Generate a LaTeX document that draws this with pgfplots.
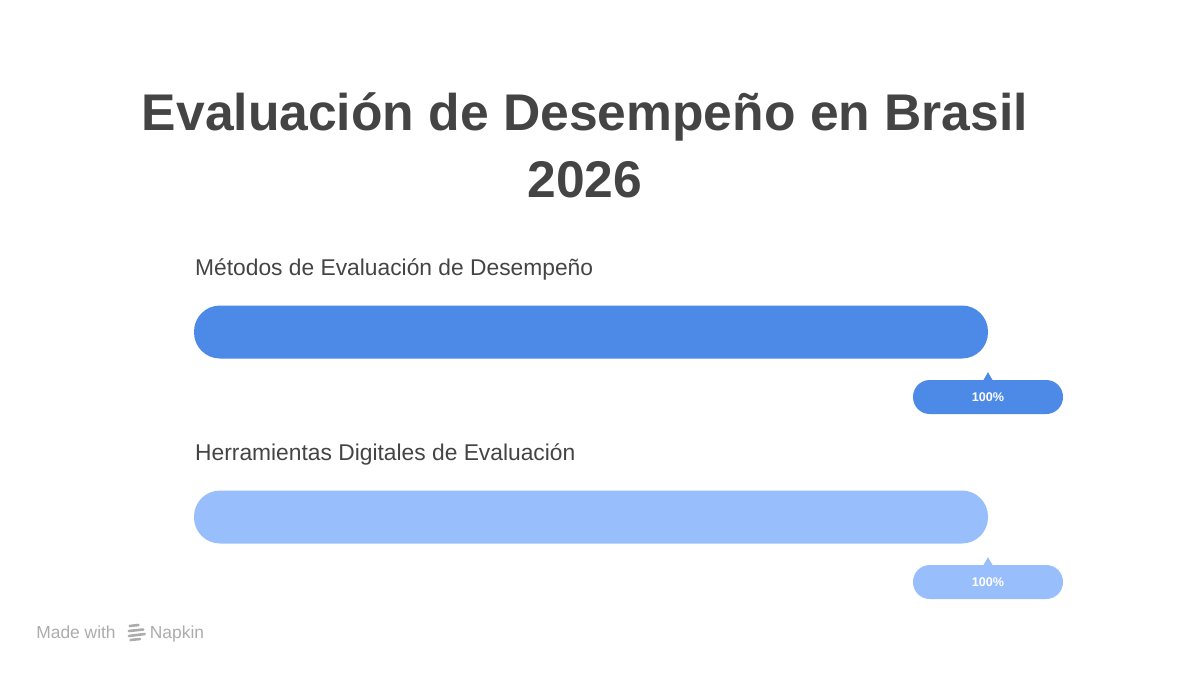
\documentclass[border=0pt]{standalone}
\usepackage{pgfplots}
\pgfplotsset{compat=1.18}
\usepackage{fontspec}
\setmainfont{Liberation Sans}
\definecolor{barA}{RGB}{77,137,230}
\definecolor{barB}{RGB}{153,190,252}
\definecolor{txt}{RGB}{68,68,68}
\definecolor{napk}{RGB}{172,172,172}
\tikzset{callout/.style={anchor=center, yshift=-32.5pt, text=white,
    font=\fontsize{6.3pt}{7pt}\selectfont\bfseries,
    minimum width=75pt, minimum height=17pt, rounded corners=8.4pt, inner sep=0pt}}
\begin{document}
\begin{tikzpicture}
\begin{axis}[
  scale only axis, width=600pt, height=337.5pt,
  xmin=-24.433, xmax=126.700, ymin=0, ymax=675, y dir=reverse,
  hide axis, clip=false,
  /pgf/number format/assume math mode=true,
]
\path (rel axis cs:0,0) rectangle (rel axis cs:1,1);
% title
\node[anchor=base, text=txt, font=\fontsize{25.8pt}{30pt}\selectfont\bfseries, inner sep=0pt] at (axis cs:49.24,130) {Evaluación de Desempeño en Brasil};
\node[anchor=base, text=txt, font=\fontsize{25.8pt}{30pt}\selectfont\bfseries, inner sep=0pt] at (axis cs:49.24,197) {2026};
% category labels
\node[anchor=base west, text=txt, font=\fontsize{11.4pt}{13pt}\selectfont, inner sep=0pt] at (axis cs:0.1,275) {Métodos de Evaluación de Desempeño};
\node[anchor=base west, text=txt, font=\fontsize{11.4pt}{13pt}\selectfont, inner sep=0pt] at (axis cs:0.1,460) {Herramientas Digitales de Evaluación};
% bars
\addplot[xbar, bar width=26.5pt, bar shift=0pt, fill=barA, draw=none, rounded corners=13pt,
  point meta=x, nodes near coords={\pgfmathprintnumber{\pgfplotspointmeta}\%},
  every node near coord/.append style={callout, fill=barA}] coordinates {(100,332)};
\addplot[xbar, bar width=26.5pt, bar shift=0pt, fill=barB, draw=none, rounded corners=13pt,
  point meta=x, nodes near coords={\pgfmathprintnumber{\pgfplotspointmeta}\%},
  every node near coord/.append style={callout, fill=barB}] coordinates {(100,517)};
% callout pointers
\addplot[only marks, mark=triangle*, mark size=2.5pt, color=barA] coordinates {(100,378)};
\addplot[only marks, mark=triangle*, mark size=2.5pt, color=barB] coordinates {(100,563)};
% footer
\node[anchor=base west, text=napk, font=\fontsize{8.7pt}{10pt}\selectfont, inner sep=0pt] at (axis cs:-19.9,638) {Made with};
\node[anchor=base west, text=napk, font=\fontsize{8.7pt}{10pt}\selectfont, inner sep=0pt] at (axis cs:-5.6,638) {Napkin};
\draw[napk, line width=1.3pt, line cap=round] (axis cs:-8.1,626) -- (axis cs:-7.0,625);
\draw[napk, line width=1.3pt, line cap=round] (axis cs:-8.2,631) -- (axis cs:-6.4,629.5);
\draw[napk, line width=1.3pt, line cap=round] (axis cs:-8.2,636) -- (axis cs:-6.2,634);
\draw[napk, line width=1.3pt, line cap=round] (axis cs:-8.0,640) -- (axis cs:-6.8,639);
\end{axis}
\end{tikzpicture}
\end{document}
